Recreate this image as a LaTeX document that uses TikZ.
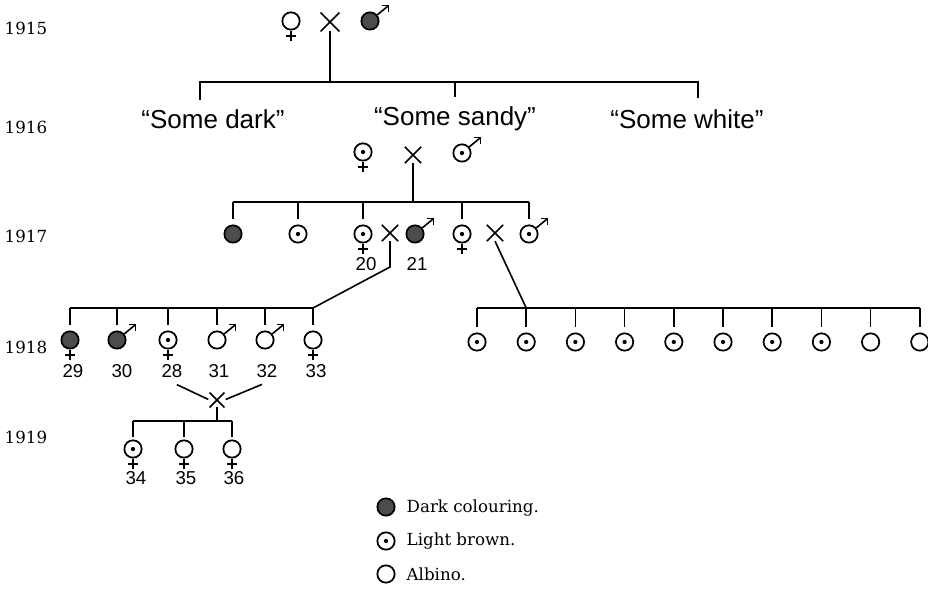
\documentclass[tikz,border=0pt]{standalone}
\usepackage{fontspec}
\newfontfamily\sansf{Liberation Sans}
\newfontfamily\serf{DejaVu Serif}
\usetikzlibrary{shapes.misc,calc}
\begin{document}
\begin{tikzpicture}[x=0.75pt,y=-0.75pt,
  ln/.style={line width=1.2pt},
  sym/.style={circle,draw,line width=1.3pt,minimum size=13pt,inner sep=0pt},
  dark/.style={sym,fill=black!70},
  dot/.style={sym,path picture={\fill (path picture bounding box.center) circle (1.6pt);}},
  plain/.style={sym},
  fem/.style={append after command={(\tikzlastnode.south) edge[ln] ($(\tikzlastnode.south)+(0,-7.5pt)$)
     ($(\tikzlastnode.south)+(-3.8pt,-4.2pt)$) edge[ln] ($(\tikzlastnode.south)+(3.8pt,-4.2pt)$)}},
  mal/.style={append after command={(\tikzlastnode.40) edge[ln] ($(\tikzlastnode.40)+(8.5pt,7pt)$)
     ($(\tikzlastnode.40)+(8.5pt,7pt)$) edge[ln] ($(\tikzlastnode.40)+(3.5pt,7pt)$)
     ($(\tikzlastnode.40)+(8.5pt,7pt)$) edge[ln] ($(\tikzlastnode.40)+(8.5pt,2.5pt)$)}},
  crs/.style={cross out,draw,line width=1.2pt,minimum size=11pt,inner sep=0pt},
  yr/.style={anchor=west,font=\serf\fontsize{12.5}{15}\selectfont},
  num/.style={font=\sansf\fontsize{14}{16}\selectfont},
  grp/.style={font=\sansf\fontsize{19.5}{22}\selectfont},
  leg/.style={anchor=west,font=\serf\fontsize{12.5}{15}\selectfont}
]
\useasboundingbox (0,0) rectangle (928,591);

% years
\node[yr] (y15) at (0,28) {1915};
\node[yr] (y16) at (0,127) {1916};
\node[yr] (y17) at (0,236) {1917};
\node[yr] (y18) at (0,347) {1918};
\node[yr] (y19) at (0,437) {1919};

% 1915
\node[plain,fem] (p1f) at (291,21) {};
\node[crs,minimum size=13pt] (x1) at (330,22) {};
\node[dark,mal] (p1m) at (370,21) {};
\coordinate (b1) at (330,82);
\draw[ln] (x1.south) -- (b1);

% 1916 groups
\node[grp] (g1) at (213,119) {“Some dark”};
\node[grp] (g2) at (455,119) {“Some sandy”};
\node[grp] (g3) at (687,119) {“Some white”};
\coordinate (t1) at (200,100);
\coordinate (t2) at (455,97);
\coordinate (t3) at (698,98);
\draw[ln] (t1) -- (t1 |- b1) -- (t3 |- b1) -- (t3);
\draw[ln] (t2) -- (t2 |- b1);

% 1916 cross
\node[dot,fem] (p2f) at (363,152) {};
\node[crs] (x2) at (413,155) {};
\node[dot,mal] (p2m) at (462,153) {};
\coordinate (b2) at (413,202);
\draw[ln] (x2.south) -- (b2);

% 1917
\node[dark] (c1) at (233,234) {};
\node[dot] (c2) at (298,234) {};
\node[dot,fem] (c3) at (363,234) {};
\node[crs] (x3) at (390,233) {};
\node[dark,mal] (c4) at (415,234) {};
\node[dot,fem] (c5) at (462,234) {};
\node[crs] (x4) at (495,233) {};
\node[dot,mal] (c6) at (529,234) {};
\node[num] (n20) at (366,264) {20};
\node[num] (n21) at (417,264) {21};
\draw[ln] (c1.north |- b2) -- (c6.north |- b2);
\foreach \n in {c1,c2,c3,c5,c6}
  \draw[ln] ($(\n.north)+(0,4pt)$) -- (\n.north |- b2);

% 1918 left
\node[dark,fem] (s29) at (70,340) {};
\node[dark,mal] (s30) at (117,340) {};
\node[dot,fem] (s28) at (168,340) {};
\node[plain,mal] (s31) at (217,340) {};
\node[plain,mal] (s32) at (265,340) {};
\node[plain,fem] (s33) at (313,340) {};
\coordinate (b4) at (313,308);
\coordinate (k3) at (390,267);
\draw[ln] (x3.south) -- (k3) -- (b4);
\draw[ln] (s29.north |- b4) -- (b4);
\foreach \n in {s29,s30,s28,s31,s32,s33}
  \draw[ln] ($(\n.north)+(0,4pt)$) -- (\n.north |- b4);
\node[num] (n29) at (73,371) {29};
\node[num] (n30) at (122,371) {30};
\node[num] (n28) at (172,371) {28};
\node[num] (n31) at (219,371) {31};
\node[num] (n32) at (267,371) {32};
\node[num] (n33) at (316,371) {33};

% 1918 right
\foreach \i in {1,...,8}
  \node[dot] (r\i) at ({477+49.2*(\i-1)},342) {};
\foreach \i in {9,10}
  \node[plain] (r\i) at ({477+49.2*(\i-1)},342) {};
\coordinate (b5) at (477,308);
\draw[ln] (r1.north |- b5) -- (r10.north |- b5);
\foreach \i in {1,...,10}
  \draw[ln] ($(r\i.north)+(0,4pt)$) -- (r\i.north |- b5);
\draw[ln] (x4.south) -- (r2.north |- b5);

% 1919
\node[crs,minimum size=10pt] (x5) at (217,400) {};
\draw[ln,shorten <=4pt,shorten >=1pt] (n28.south) -- (x5.west);
\draw[ln,shorten <=4pt,shorten >=1pt] (n32.south) -- (x5.east);
\coordinate (b6) at (217,421);
\draw[ln] (x5.south) -- (b6);
\node[dot,fem] (s34) at (133,449) {};
\node[plain,fem] (s35) at (184,449) {};
\node[plain,fem] (s36) at (232,449) {};
\draw[ln] (s34.north |- b6) -- (s36.north |- b6);
\foreach \n in {s34,s35,s36}
  \draw[ln] ($(\n.north)+(0,2pt)$) -- (\n.north |- b6);
\node[num] (n34) at (136,478) {34};
\node[num] (n35) at (186,478) {35};
\node[num] (n36) at (234,478) {36};

% legend
\node[dark] (l1) at (386,507) {};
\node[dot] (l2) at (386,541) {};
\node[plain] (l3) at (386,574) {};
\node[leg] (lt1) at (402,508) {Dark colouring.};
\node[leg] (lt2) at (402,541) {Light brown.};
\node[leg] (lt3) at (402,574) {Albino.};
\end{tikzpicture}
\end{document}
